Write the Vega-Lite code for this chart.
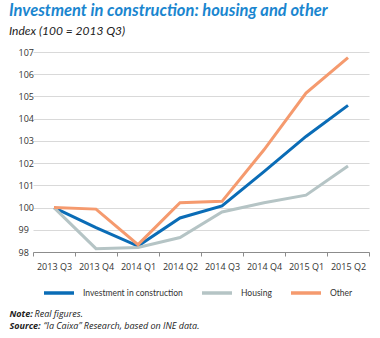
{
 "$schema": "https://vega.github.io/schema/vega-lite/v6.json",
 "width": 336,
 "height": 200,
 "autosize": {"type": "none"},
 "padding": {"left": 33, "top": 52, "right": 11, "bottom": 86},
 "background": "white",
 "title": {
  "text": "Investment in construction: housing and other",
  "subtitle": "Index (100 = 2013 Q3)",
  "anchor": "start",
  "dx": 0,
  "font": "Lato",
  "fontSize": 16.5,
  "fontWeight": "bold",
  "fontStyle": "italic",
  "color": "#1a86cf",
  "subtitleFont": "Lato",
  "subtitleFontSize": 12,
  "subtitleFontStyle": "italic",
  "subtitleColor": "#222222",
  "subtitlePadding": 7,
  "offset": 11
 },
 "config": {"view": {"stroke": null}},
 "data": {"values": [
  {"q": "2013 Q3", "s": "Investment in construction", "v": 100},
  {"q": "2013 Q4", "s": "Investment in construction", "v": 99.1},
  {"q": "2014 Q1", "s": "Investment in construction", "v": 98.27},
  {"q": "2014 Q2", "s": "Investment in construction", "v": 99.53},
  {"q": "2014 Q3", "s": "Investment in construction", "v": 100.07},
  {"q": "2014 Q4", "s": "Investment in construction", "v": 101.62},
  {"q": "2015 Q1", "s": "Investment in construction", "v": 103.2},
  {"q": "2015 Q2", "s": "Investment in construction", "v": 104.6},
  {"q": "2013 Q3", "s": "Housing", "v": 100},
  {"q": "2013 Q4", "s": "Housing", "v": 98.15},
  {"q": "2014 Q1", "s": "Housing", "v": 98.2},
  {"q": "2014 Q2", "s": "Housing", "v": 98.65},
  {"q": "2014 Q3", "s": "Housing", "v": 99.8},
  {"q": "2014 Q4", "s": "Housing", "v": 100.22},
  {"q": "2015 Q1", "s": "Housing", "v": 100.56},
  {"q": "2015 Q2", "s": "Housing", "v": 101.87},
  {"q": "2013 Q3", "s": "Other", "v": 100},
  {"q": "2013 Q4", "s": "Other", "v": 99.93},
  {"q": "2014 Q1", "s": "Other", "v": 98.33},
  {"q": "2014 Q2", "s": "Other", "v": 100.22},
  {"q": "2014 Q3", "s": "Other", "v": 100.28},
  {"q": "2014 Q4", "s": "Other", "v": 102.6},
  {"q": "2015 Q1", "s": "Other", "v": 105.15},
  {"q": "2015 Q2", "s": "Other", "v": 106.75}
 ]},
 "resolve": {"axis": {"x": "independent"}},
 "layer": [
  {
   "transform": [{"filter": "datum.s !== 'Other'"}],
   "mark": {"type": "line", "strokeWidth": 3},
   "encoding": {
    "x": {
     "field": "q", "type": "ordinal", "sort": null,
     "scale": {"type": "band", "paddingInner": 0, "paddingOuter": 0},
     "axis": {
      "orient": "bottom",
      "labelAngle": 0, "labelFont": "Open Sans", "labelFontSize": 9, "labelColor": "#333333", "labelPadding": 6,
      "tickBand": "extent", "ticks": true, "tickSize": 4, "tickColor": "#8c8c8c", "domainColor": "#8c8c8c", "grid": false,
      "title": "Real figures.",
      "titleFont": "Open Sans", "titleFontSize": 9, "titleFontStyle": "italic", "titleFontWeight": "normal", "titleColor": "#222222",
      "titleAnchor": "start", "titleAlign": "left", "titleBaseline": "alphabetic", "titleX": 1, "titleY": 64
     }
    },
    "y": {
     "field": "v", "type": "quantitative",
     "scale": {"domain": [98, 107], "nice": false, "zero": false},
     "axis": {
      "values": [98, 99, 100, 101, 102, 103, 104, 105, 106, 107],
      "domain": false, "ticks": false, "grid": true, "gridColor": "#d9d9d9", "gridWidth": 1,
      "labelFont": "Open Sans", "labelFontSize": 9, "labelColor": "#333333", "labelPadding": 15, "labelAlign": "left", "labelBaseline": "middle",
      "title": ["Note:", "Source:"],
      "titleFont": "Open Sans", "titleFontSize": 9, "titleFontStyle": "italic", "titleFontWeight": "bold", "titleColor": "#222222",
      "titleAngle": 0, "titleAnchor": "start", "titleAlign": "left", "titleBaseline": "alphabetic", "titleX": -24, "titleY": 264, "titleLineHeight": 12
     }
    },
    "color": {
     "field": "s", "type": "nominal",
     "scale": {"domain": ["Investment in construction", "Housing", "Other"], "range": ["#0a6cb6", "#b5c4c5", "#f59a6e"]},
     "legend": {
      "title": null, "orient": "none", "direction": "horizontal", "legendX": 9, "legendY": 224,
      "symbolType": "stroke", "symbolSize": 900, "symbolStrokeWidth": 3.5,
      "labelFont": "Lato", "labelFontSize": 8.5, "labelColor": "#333333", "labelOffset": 7, "columnPadding": 12
     }
    }
   }
  },
  {
   "transform": [{"filter": "datum.s === 'Other'"}],
   "mark": {"type": "line", "strokeWidth": 3},
   "encoding": {
    "x": {
     "field": "q", "type": "ordinal", "sort": null,
     "scale": {"type": "band", "paddingInner": 0, "paddingOuter": 0},
     "axis": {
      "orient": "bottom", "labels": false, "ticks": false, "domain": false, "grid": false,
      "title": "“la Caixa” Research, based on INE data.",
      "titleFont": "Open Sans", "titleFontSize": 9, "titleFontStyle": "italic", "titleFontWeight": "normal", "titleColor": "#222222",
      "titleAnchor": "start", "titleAlign": "left", "titleBaseline": "alphabetic", "titleX": 10, "titleY": 76
     }
    },
    "y": {
     "field": "v", "type": "quantitative",
     "scale": {"domain": [98, 107], "nice": false, "zero": false},
     "axis": {
      "values": [98, 99, 100, 101, 102, 103, 104, 105, 106, 107],
      "domain": false, "ticks": false, "grid": true, "gridColor": "#d9d9d9", "gridWidth": 1,
      "labelFont": "Open Sans", "labelFontSize": 9, "labelColor": "#333333", "labelPadding": 15, "labelAlign": "left", "labelBaseline": "middle",
      "title": ["Note:", "Source:"],
      "titleFont": "Open Sans", "titleFontSize": 9, "titleFontStyle": "italic", "titleFontWeight": "bold", "titleColor": "#222222",
      "titleAngle": 0, "titleAnchor": "start", "titleAlign": "left", "titleBaseline": "alphabetic", "titleX": -24, "titleY": 264, "titleLineHeight": 12
     }
    },
    "color": {
     "field": "s", "type": "nominal",
     "legend": {
      "title": null, "orient": "none", "direction": "horizontal", "legendX": 9, "legendY": 224,
      "symbolType": "stroke", "symbolSize": 900, "symbolStrokeWidth": 3.5,
      "labelFont": "Lato", "labelFontSize": 8.5, "labelColor": "#333333", "labelOffset": 7, "columnPadding": 12
     }
    }
   }
  }
 ]
}
